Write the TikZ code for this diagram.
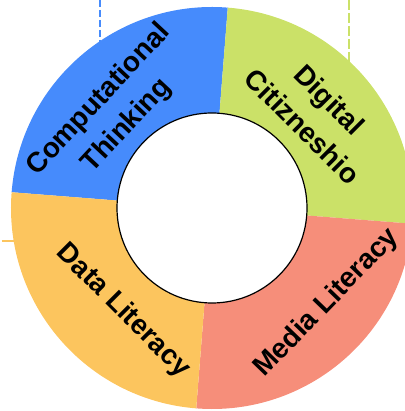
\documentclass[tikz,border=0pt]{standalone}
\usepackage{fontspec}
\setmainfont{Liberation Sans}
\definecolor{segblue}{HTML}{468BFC}
\definecolor{seggreen}{HTML}{CBE168}
\definecolor{segred}{HTML}{F68E7A}
\definecolor{segyellow}{HTML}{FCC55E}
\tikzset{
  seglabel/.style={font=\fontsize{28}{38}\selectfont\bfseries, align=center, inner sep=0pt, text=black},
  guide/.style={line width=1.5pt},
}
\begin{document}
\begin{tikzpicture}[x=1pt,y=1pt]
\useasboundingbox (-212,-203) rectangle (192,208);
% guide lines (behind the ring)
\coordinate (bt) at (-112,208);
\coordinate (bb) at (-112,120);
\coordinate (gt) at (137,208);
\coordinate (gb) at (137,120);
\coordinate (yl) at (-210,-33);
\coordinate (yr) at (-150,-33);
\draw[guide, segblue, dash pattern=on 7pt off 3pt] (bt) -- (bb);
\draw[guide, seggreen, dash pattern=on 10pt off 3pt] (gt) -- (gb);
\draw[guide, segyellow] (yl) -- (yr);
% ring sectors
\def\Ro{201}
\fill[segblue]   (0,0) -- (85.5:\Ro) arc[start angle=85.5, end angle=175.5, radius=\Ro] -- cycle;
\fill[seggreen]  (0,0) -- (-4.5:\Ro) arc[start angle=-4.5, end angle=85.5, radius=\Ro] -- cycle;
\fill[segred]    (0,0) -- (-94.5:\Ro) arc[start angle=-94.5, end angle=-4.5, radius=\Ro] -- cycle;
\fill[segyellow] (0,0) -- (175.5:\Ro) arc[start angle=175.5, end angle=265.5, radius=\Ro] -- cycle;
\node[circle, draw=black, line width=1.2pt, fill=white, minimum size=190pt, inner sep=0pt] (hole) at (0,0) {};
% labels
\node[seglabel, rotate=47] (CT) at (-99,95) {Computational\\Thinking};
\node[seglabel, rotate=-45] (DC) at (104,95) {Digital\\Citizneshio};
\node[seglabel, rotate=-45] (DL) at (-89,-103) {Data Literacy};
\node[seglabel, rotate=46] (ML) at (115,-95) {Media Literacy};
\end{tikzpicture}
\end{document}
